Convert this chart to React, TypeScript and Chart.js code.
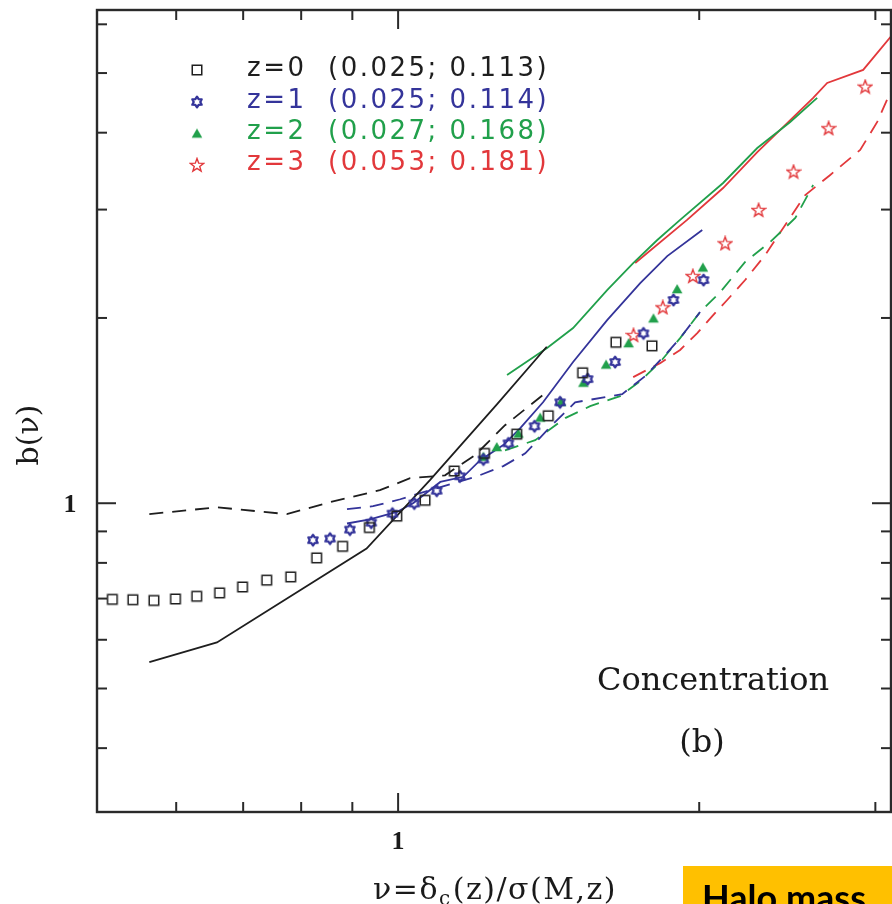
import React, { useEffect, useRef } from 'react';
import { Chart, registerables } from 'chart.js';

Chart.register(...registerables);

// ---------- axes ----------
const xRange = [0.5, 3.11];
const yRange = [0.315, 6.33];
const xMajorTicks = [1];
const xMinorTicks = [0.6, 0.7, 0.8, 0.9, 2, 3];
const yMajorTicks = [1];
const yMinorTicks = [0.4, 0.5, 0.6, 0.7, 0.8, 0.9, 2, 3, 4, 5, 6];
const xTickLabels = ['1'];
const yTickLabels = ['1'];

// ---------- legend ----------
const legendLabels = [
  'z=0  (0.025; 0.113)',
  'z=1  (0.025; 0.114)',
  'z=2  (0.027; 0.168)',
  'z=3  (0.053; 0.181)',
];

// ---------- measured points ----------
const z0Nu = [0.518, 0.543, 0.570, 0.599, 0.629, 0.663, 0.699, 0.739, 0.781, 0.829, 0.880, 0.936, 0.997, 1.064, 1.138, 1.220, 1.314, 1.413, 1.529, 1.651, 1.794];
const z0B = [0.698, 0.697, 0.695, 0.699, 0.706, 0.715, 0.731, 0.750, 0.759, 0.815, 0.851, 0.913, 0.953, 1.011, 1.128, 1.205, 1.295, 1.387, 1.629, 1.826, 1.802];

const z1Nu = [0.822, 0.855, 0.895, 0.940, 0.987, 1.038, 1.093, 1.153, 1.217, 1.289, 1.369, 1.452, 1.547, 1.648, 1.759, 1.885, 2.020];
const z1B = [0.871, 0.876, 0.906, 0.930, 0.962, 0.999, 1.048, 1.106, 1.178, 1.251, 1.334, 1.459, 1.591, 1.696, 1.888, 2.139, 2.305];

const z2Nu = [1.217, 1.255, 1.319, 1.387, 1.455, 1.532, 1.614, 1.700, 1.800, 1.901, 2.017];
const z2B = [1.190, 1.234, 1.298, 1.378, 1.461, 1.570, 1.680, 1.820, 1.997, 2.228, 2.416];

const z3Nu = [1.719, 1.839, 1.971, 2.123, 2.293, 2.485, 2.694, 2.931];
const z3B = [1.876, 2.081, 2.339, 2.644, 2.995, 3.457, 4.067, 4.752];

// ---------- solid curves ----------
const z0SolidNu = [0.564, 0.659, 0.930, 1.076, 1.256, 1.408];
const z0SolidB = [0.552, 0.594, 0.844, 1.090, 1.449, 1.796];

const z1SolidNu = [0.889, 0.937, 0.997, 1.036, 1.102, 1.162, 1.208, 1.274, 1.324, 1.396, 1.496, 1.618, 1.746, 1.858, 2.014];
const z1SolidB = [0.927, 0.941, 0.968, 1.001, 1.083, 1.104, 1.175, 1.243, 1.323, 1.459, 1.696, 1.984, 2.279, 2.521, 2.779];

const z2SolidNu = [1.285, 1.409, 1.496, 1.618, 1.718, 1.816, 1.914, 2.113, 2.286, 2.466, 2.624];
const z2SolidB = [1.615, 1.787, 1.926, 2.220, 2.456, 2.677, 2.886, 3.314, 3.777, 4.164, 4.556];

const z3SolidNu = [1.726, 1.945, 2.113, 2.286, 2.410, 2.600, 2.685, 2.917, 3.119];
const z3SolidB = [2.456, 2.886, 3.252, 3.721, 4.042, 4.556, 4.818, 5.059, 5.768];

// ---------- dashed curves ----------
const z0DashNu = [0.564, 0.659, 0.774, 0.855, 0.959, 1.028, 1.114, 1.194, 1.279, 1.403];
const z0DashB = [0.960, 0.985, 0.960, 1.004, 1.050, 1.098, 1.110, 1.197, 1.339, 1.509];

const z1DashNu = [0.889, 0.944, 1.005, 1.076, 1.199, 1.274, 1.340, 1.419, 1.503, 1.611, 1.675, 1.766, 1.849, 1.914, 2.004];
const z1DashB = [0.978, 0.989, 1.015, 1.050, 1.106, 1.149, 1.205, 1.330, 1.459, 1.487, 1.504, 1.609, 1.741, 1.855, 2.045];

const z2DashNu = [1.279, 1.371, 1.469, 1.556, 1.667, 1.746, 1.828, 1.914, 2.004, 2.099, 2.223, 2.355, 2.495, 2.600];
const z2DashB = [1.219, 1.266, 1.375, 1.438, 1.493, 1.579, 1.696, 1.855, 2.045, 2.203, 2.466, 2.657, 2.907, 3.289];

const z3DashNu = [1.718, 1.828, 1.914, 1.991, 2.061, 2.133, 2.223, 2.328, 2.438, 2.553, 2.704, 2.897, 3.013, 3.119];
const z3DashB = [1.603, 1.689, 1.774, 1.890, 2.014, 2.139, 2.305, 2.531, 2.832, 3.168, 3.415, 3.750, 4.164, 4.730];

// ---------- styles ----------
const BLACK = '#1e1e1e';
const BLUE = '#34349a';
const GREEN = '#21a04b';
const RED = '#e2383b';
const FRAME = '#2a2a2a';

const toXY = (xs: number[], ys: number[]) => xs.map((x, i) => ({ x, y: ys[i] }));

function makeMarker(kind: string): HTMLCanvasElement {
  const c = document.createElement('canvas');
  c.width = 16;
  c.height = 16;
  const g = c.getContext('2d')!;
  const cx = 8, cy = 8;
  if (kind === 'square') {
    g.strokeStyle = BLACK;
    g.lineWidth = 1.5;
    g.strokeRect(3.25, 3.25, 9.5, 9.5);
  } else if (kind === 'hex') {
    g.strokeStyle = BLUE;
    g.lineWidth = 2.3;
    g.lineJoin = 'round';
    g.beginPath();
    for (let i = 0; i < 12; i++) {
      const r = i % 2 === 0 ? 5.4 : 3.3;
      const a = -Math.PI / 2 + (i * Math.PI) / 6;
      const px = cx + r * Math.cos(a), py = cy + r * Math.sin(a);
      if (i === 0) g.moveTo(px, py); else g.lineTo(px, py);
    }
    g.closePath();
    g.stroke();
  } else if (kind === 'tri') {
    g.fillStyle = GREEN;
    g.beginPath();
    g.moveTo(cx, cy - 5);
    g.lineTo(cx + 5.3, cy + 4.2);
    g.lineTo(cx - 5.3, cy + 4.2);
    g.closePath();
    g.fill();
  } else {
    g.strokeStyle = RED;
    g.lineWidth = 1.4;
    g.beginPath();
    for (let i = 0; i < 10; i++) {
      const r = i % 2 === 0 ? 7 : 2.9;
      const a = -Math.PI / 2 + (i * Math.PI) / 5;
      const px = cx + r * Math.cos(a), py = cy + 0.5 + r * Math.sin(a);
      if (i === 0) g.moveTo(px, py); else g.lineTo(px, py);
    }
    g.closePath();
    g.stroke();
  }
  return c;
}

export default function App() {
  const ref = useRef<HTMLCanvasElement | null>(null);

  useEffect(() => {
    const canvas = ref.current;
    if (!canvas) return;
    const markers = [makeMarker('square'), makeMarker('hex'), makeMarker('tri'), makeMarker('star')];
    const colors = [BLACK, BLUE, GREEN, RED];

    const pointSet = (label: string, xs: number[], ys: number[], m: HTMLCanvasElement) => ({
      label,
      data: toXY(xs, ys),
      showLine: false,
      pointStyle: m,
      pointRadius: 6,
      pointHoverRadius: 6,
      order: 0,
    });
    const lineSet = (label: string, xs: number[], ys: number[], color: string, dashed: boolean) => ({
      label,
      data: toXY(xs, ys),
      showLine: true,
      borderColor: color,
      borderWidth: 1.8,
      borderDash: dashed ? [14, 9] : [],
      pointRadius: 0,
      pointHoverRadius: 0,
      tension: 0,
      fill: false,
      order: 1,
    });

    const decor = {
      id: 'decor',
      afterDraw(chart: any) {
        const { ctx, chartArea: a, scales } = chart;
        const xs = scales.x, ys = scales.y;
        ctx.save();
        ctx.strokeStyle = FRAME;
        ctx.lineWidth = 2.4;
        ctx.strokeRect(a.left, a.top, a.right - a.left, a.bottom - a.top);
        ctx.lineWidth = 2;
        const seg = (x1: number, y1: number, x2: number, y2: number) => {
          ctx.beginPath();
          ctx.moveTo(x1, y1);
          ctx.lineTo(x2, y2);
          ctx.stroke();
        };
        const xt = (v: number, len: number) => {
          const p = xs.getPixelForValue(v);
          seg(p, a.bottom, p, a.bottom - len);
          seg(p, a.top, p, a.top + len);
        };
        const yt = (v: number, len: number) => {
          const p = ys.getPixelForValue(v);
          seg(a.left, p, a.left + len, p);
          seg(a.right, p, a.right - len, p);
        };
        xMajorTicks.forEach((v) => xt(v, 19));
        xMinorTicks.forEach((v) => xt(v, 10));
        yMajorTicks.forEach((v) => yt(v, 19));
        yMinorTicks.forEach((v) => yt(v, 10));

        // tick labels
        ctx.fillStyle = '#1a1a1a';
        ctx.font = 'bold 26px "Liberation Serif"';
        ctx.textAlign = 'center';
        ctx.textBaseline = 'alphabetic';
        xMajorTicks.forEach((v, i) => ctx.fillText(xTickLabels[i], xs.getPixelForValue(v), 849));
        yMajorTicks.forEach((v, i) => ctx.fillText(yTickLabels[i], 70, ys.getPixelForValue(v) + 9));

        // x title with subscript
        (ctx as any).letterSpacing = '1.5px';
        ctx.textAlign = 'left';
        const p1 = '\u03bd=\u03b4';
        const p3 = '(z)/\u03c3(M,z)';
        ctx.font = '30px "DejaVu Serif"';
        const w1 = ctx.measureText(p1).width;
        const w3 = ctx.measureText(p3).width;
        ctx.font = '20px "DejaVu Serif"';
        const w2 = ctx.measureText('c').width + 1;
        const total = w1 + w2 + w3;
        let tx = 495 - total / 2;
        const base = 899;
        ctx.font = '30px "DejaVu Serif"';
        ctx.fillText(p1, tx, base);
        tx += w1;
        ctx.font = '20px "DejaVu Serif"';
        ctx.fillText('c', tx, base + 6);
        tx += w2;
        ctx.font = '30px "DejaVu Serif"';
        ctx.fillText(p3, tx, base);
        (ctx as any).letterSpacing = '0px';

        // y title
        ctx.save();
        ctx.translate(30, 435);
        ctx.rotate(-Math.PI / 2);
        ctx.textAlign = 'center';
        ctx.textBaseline = 'middle';
        ctx.font = '30px "DejaVu Serif"';
        ctx.fillText('b(\u03bd)', 0, 0);
        ctx.restore();

        // annotations
        ctx.textBaseline = 'alphabetic';
        ctx.font = '32px "DejaVu Serif"';
        ctx.textAlign = 'left';
        ctx.fillText('Concentration', 597, 690);
        ctx.textAlign = 'center';
        ctx.fillText('(b)', 702, 752);

        // legend
        const baselines = [76, 107.5, 138.5, 169.5];
        const markerY = [70, 102, 133.5, 165];
        ctx.textAlign = 'left';
        ctx.font = '26px "DejaVu Sans"';
        (ctx as any).letterSpacing = '2.5px';
        legendLabels.forEach((t, i) => {
          const m = markers[i];
          ctx.drawImage(m, 197 - m.width / 2, markerY[i] - m.height / 2);
          ctx.fillStyle = colors[i];
          ctx.fillText(t, 247, baselines[i]);
        });
        (ctx as any).letterSpacing = '0px';

        // slide badge
        ctx.fillStyle = '#FFC000';
        ctx.fillRect(683, 866, 209, 38);
        ctx.fillStyle = '#000';
        ctx.font = 'bold 36px "Lato"';
        ctx.textAlign = 'left';
        ctx.fillText('Halo mass', 702, 911);
        ctx.restore();
      },
    };

    const chart = new Chart(canvas, {
      type: 'scatter',
      data: {
        datasets: [
          pointSet('z=0', z0Nu, z0B, markers[0]),
          pointSet('z=1', z1Nu, z1B, markers[1]),
          pointSet('z=2', z2Nu, z2B, markers[2]),
          pointSet('z=3', z3Nu, z3B, markers[3]),
          lineSet('z=0 fit', z0SolidNu, z0SolidB, BLACK, false),
          lineSet('z=1 fit', z1SolidNu, z1SolidB, BLUE, false),
          lineSet('z=2 fit', z2SolidNu, z2SolidB, GREEN, false),
          lineSet('z=3 fit', z3SolidNu, z3SolidB, RED, false),
          lineSet('z=0 model', z0DashNu, z0DashB, BLACK, true),
          lineSet('z=1 model', z1DashNu, z1DashB, BLUE, true),
          lineSet('z=2 model', z2DashNu, z2DashB, GREEN, true),
          lineSet('z=3 model', z3DashNu, z3DashB, RED, true),
        ] as any,
      },
      options: {
        responsive: false,
        animation: false,
        devicePixelRatio: 1,
        layout: { autoPadding: false, padding: { left: 97, top: 10, right: 1, bottom: 92 } },
        plugins: { legend: { display: false }, tooltip: { enabled: false } },
        scales: {
          x: { type: 'logarithmic', bounds: 'data', min: xRange[0], max: xRange[1], display: false },
          y: { type: 'logarithmic', bounds: 'data', min: yRange[0], max: yRange[1], display: false },
        },
      },
      plugins: [decor],
    });
    return () => chart.destroy();
  }, []);

  return (
    <div style={{ position: 'absolute', left: 0, top: 0, width: 892, height: 904, overflow: 'hidden', background: '#fff' }}>
      <canvas ref={ref} width={892} height={904} style={{ display: 'block' }} />
    </div>
  );
}
